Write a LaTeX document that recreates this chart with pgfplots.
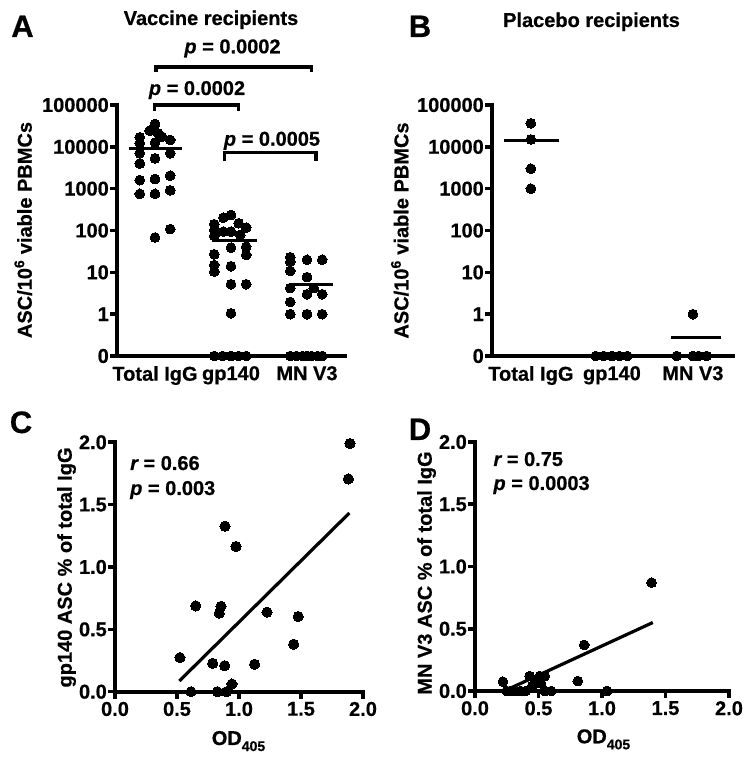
\documentclass[border=0pt]{standalone}
\usepackage{fontspec}
\setmainfont{Liberation Sans}[BoldFeatures={FakeBold=0.6}, BoldItalicFeatures={FakeBold=0.6}]
\usepackage{pgfplots}
\pgfplotsset{compat=1.18}
\newcommand{\fs}[1]{\fontsize{#1}{#1}\selectfont\bfseries}
\newcommand{\pv}{{\itshape p}}
\tikzset{brk/.style={black, line width=3.3pt}}
\pgfplotsset{
  gp/.style={
    scale only axis, clip=false,
    axis x line=bottom, axis y line=left,
    axis line style={-, line width=4pt, line cap=rect, black},
    tick align=outside, major tick length=7pt,
    every tick/.style={black, line width=3.6pt},
    tick label style={font=\fs{20}, inner sep=0pt},
    xticklabel style={yshift=-3pt},
    yticklabel style={xshift=-1pt},
    yminorticks=false, xminorticks=false,
  },
  dots/.style={only marks, mark=*, mark size=4.9pt, black, mark options={fill=black, draw=black, line width=0pt}},
  med/.style={no marks, black, line width=3.2pt},
}
\begin{document}
\begin{tikzpicture}
\path[use as bounding box] (0pt,0pt) rectangle (751pt,763pt);

% ---------------- Panel A ----------------
\begin{axis}[gp, at={(117pt,407pt)}, anchor=south west, width=228pt, height=251pt,
  xmin=-0.5, xmax=2.5, xtick={0,1,2}, xticklabels={Total IgG,gp140,MN V3},
  major x tick style={draw=none},
  ymode=log, ymin=0.1, ymax=100000,
  ytick={0.1,1,10,100,1000,10000,100000},
  yticklabels={0,1,10,100,1000,10000,100000}]
% Total IgG
\addplot[dots] coordinates {(0,35000) (-0.07,24300) (0.04,21100) (-0.2,16900) (0.09,17500) (0.2,14600) (0,12600) (-0.2,12200) (-0.2,7000) (0.2,7000) (0,5300) (-0.2,4000) (-0.2,1600) (0,1700) (0.2,2050) (-0.2,750) (0,750) (0.2,910) (0,68) (0.2,108)};
% gp140 (zero plotted on the 0 line)
\addplot[dots] coordinates {(0.78,141) (0.9,202) (1.0,235) (1.1,149) (1.2,117) (0.78,103) (0.9,94) (1.0,94) (1.12,78) (0.78,75) (1.0,39) (1.2,41) (0.78,27) (1.2,26) (1.0,14) (0.78,15) (0.78,10.4) (1.0,5.2) (1.2,5.2) (1.0,1.05) (0.78,0.1) (0.89,0.1) (1.0,0.1) (1.1,0.1) (1.2,0.1)};
% MN V3
\addplot[dots] coordinates {(1.78,23) (1.78,18) (2.0,20) (2.2,20) (1.78,10.8) (2.0,7.7) (1.78,4.2) (2.09,4.2) (2.0,3.0) (2.2,3.0) (1.78,1.95) (1.78,1) (2.0,1) (2.2,1) (1.78,0.1) (1.86,0.1) (1.94,0.1) (2.0,0.1) (2.06,0.1) (2.14,0.1) (2.2,0.1)};
% medians
\addplot[med] coordinates {(-0.34,9000) (0.36,9000)};
\addplot[med] coordinates {(0.75,57) (1.34,57)};
\addplot[med] coordinates {(1.76,5.2) (2.34,5.2)};
% brackets
\draw[brk] (axis cs:0.013,6.2e5) -- (axis cs:0.013,8.1e5) -- (axis cs:2.06,8.1e5) -- (axis cs:2.06,6.2e5);
\draw[brk] (axis cs:-0.01,7.2e4) -- (axis cs:-0.01,1e5) -- (axis cs:1.10,1e5) -- (axis cs:1.10,7.2e4);
\draw[brk] (axis cs:0.91,4600) -- (axis cs:0.91,7240) -- (axis cs:2.12,7240) -- (axis cs:2.12,4600);
\end{axis}

% ---------------- Panel B ----------------
\begin{axis}[gp, at={(492pt,407pt)}, anchor=south west, width=241pt, height=251pt,
  xmin=-0.48, xmax=2.495, xtick={0,1,2}, xticklabels={Total IgG,gp140,MN V3},
  major x tick style={draw=none},
  ymode=log, ymin=0.1, ymax=100000,
  ytick={0.1,1,10,100,1000,10000,100000},
  yticklabels={0,1,10,100,1000,10000,100000}]
\addplot[dots] coordinates {(0,36500) (0,15000) (0,3000) (0,1000)};
\addplot[dots] coordinates {(0.8,0.1) (0.9,0.1) (1.0,0.1) (1.09,0.1) (1.19,0.1)};
\addplot[dots] coordinates {(2,1) (1.8,0.1) (2.0,0.1) (2.07,0.1) (2.17,0.1)};
\addplot[med] coordinates {(-0.33,14000) (0.35,14000)};
\addplot[med] coordinates {(1.73,0.28) (2.35,0.28)};
\end{axis}

% ---------------- Panel C ----------------
\begin{axis}[gp, at={(115pt,71.3pt)}, anchor=south west, width=248pt, height=249.4pt,
  xmin=0, xmax=2, ymin=0, ymax=2,
  xtick={0,0.5,1,1.5,2}, xticklabels={0.0,0.5,1.0,1.5,2.0},
  ytick={0,0.5,1,1.5,2}, yticklabels={0.0,0.5,1.0,1.5,2.0}]
\addplot[dots, mark size=5.1pt] coordinates {(0.887,1.327) (0.976,1.165) (0.651,0.688) (0.855,0.685) (0.841,0.63) (1.226,0.638) (1.478,0.603) (1.441,0.381) (0.524,0.273) (0.788,0.228) (0.884,0.209) (1.126,0.220) (0.943,0.062) (0.613,0) (0.825,0) (0.9,0) (1.895,1.99) (1.882,1.706)};
\addplot[med] coordinates {(0.519,0.086) (1.89,1.433)};
\end{axis}

% ---------------- Panel D ----------------
\begin{axis}[gp, at={(475pt,72pt)}, anchor=south west, width=254pt, height=249pt,
  xmin=0, xmax=2, ymin=0, ymax=2,
  xtick={0,0.5,1,1.5,2}, xticklabels={0.0,0.5,1.0,1.5,2.0},
  ytick={0,0.5,1,1.5,2}, yticklabels={0.0,0.5,1.0,1.5,2.0}]
\addplot[dots] coordinates {(0.22,0.075) (0.25,0) (0.28,0) (0.32,0) (0.36,0) (0.40,0) (0.43,0.12) (0.45,0.04) (0.47,0.07) (0.51,0.12) (0.52,0.06) (0.55,0.12) (0.55,0) (0.60,0) (0.81,0.08) (0.86,0.37) (1.04,0) (1.39,0.87)};
\addplot[med] coordinates {(0.23,0.0) (1.40,0.55)};
\end{axis}

% ---------------- Text ----------------
\node[anchor=base, font=\fs{31}] at (22.5pt,726pt) {A};
\node[anchor=base, font=\fs{31}] at (420pt,726pt) {B};
\node[anchor=base, font=\fs{31}] at (21pt,330pt) {C};
\node[anchor=base, font=\fs{31}] at (420pt,323pt) {D};
\node[anchor=base, font=\fs{20}] at (211pt,738pt) {Vaccine recipients};
\node[anchor=base, font=\fs{20}] at (591.5pt,736pt) {Placebo recipients};
\node[anchor=base, font=\fs{20}] at (232.5pt,709.7pt) {\pv{} = 0.0002};
\node[anchor=base, font=\fs{20}] at (197pt,668pt) {\pv{} = 0.0002};
\node[anchor=base, font=\fs{20}] at (272pt,617.3pt) {\pv{} = 0.0005};
\node[anchor=base, rotate=90, font=\fs{20}] at (31.7pt,533pt) {ASC/10\textsuperscript{6} viable PBMCs};
\node[anchor=base, rotate=90, font=\fs{20}] at (408.3pt,532.5pt) {ASC/10\textsuperscript{6} viable PBMCs};
\node[anchor=base, rotate=90, font=\fs{20}] at (71.7pt,195.5pt) {gp140 ASC \% of total IgG};
\node[anchor=base, rotate=90, font=\fs{20}] at (431.7pt,190pt) {MN V3 ASC \% of total IgG};
\node[anchor=base, font=\fs{20}] at (238.5pt,18pt) {OD\raisebox{-0.3em}{\fs{14}405}};
\node[anchor=base, font=\fs{20}] at (603.5pt,19.7pt) {OD\raisebox{-0.3em}{\fs{14}405}};
\node[anchor=base west, font=\fs{20}, inner sep=0pt] at (130pt,293pt) {{\itshape r} = 0.66};
\node[anchor=base west, font=\fs{20}, inner sep=0pt] at (130pt,268pt) {\pv{} = 0.003};
\node[anchor=base west, font=\fs{20}, inner sep=0pt] at (493.3pt,297pt) {{\itshape r} = 0.75};
\node[anchor=base west, font=\fs{20}, inner sep=0pt] at (493.3pt,273pt) {\pv{} = 0.0003};
\end{tikzpicture}
\end{document}
